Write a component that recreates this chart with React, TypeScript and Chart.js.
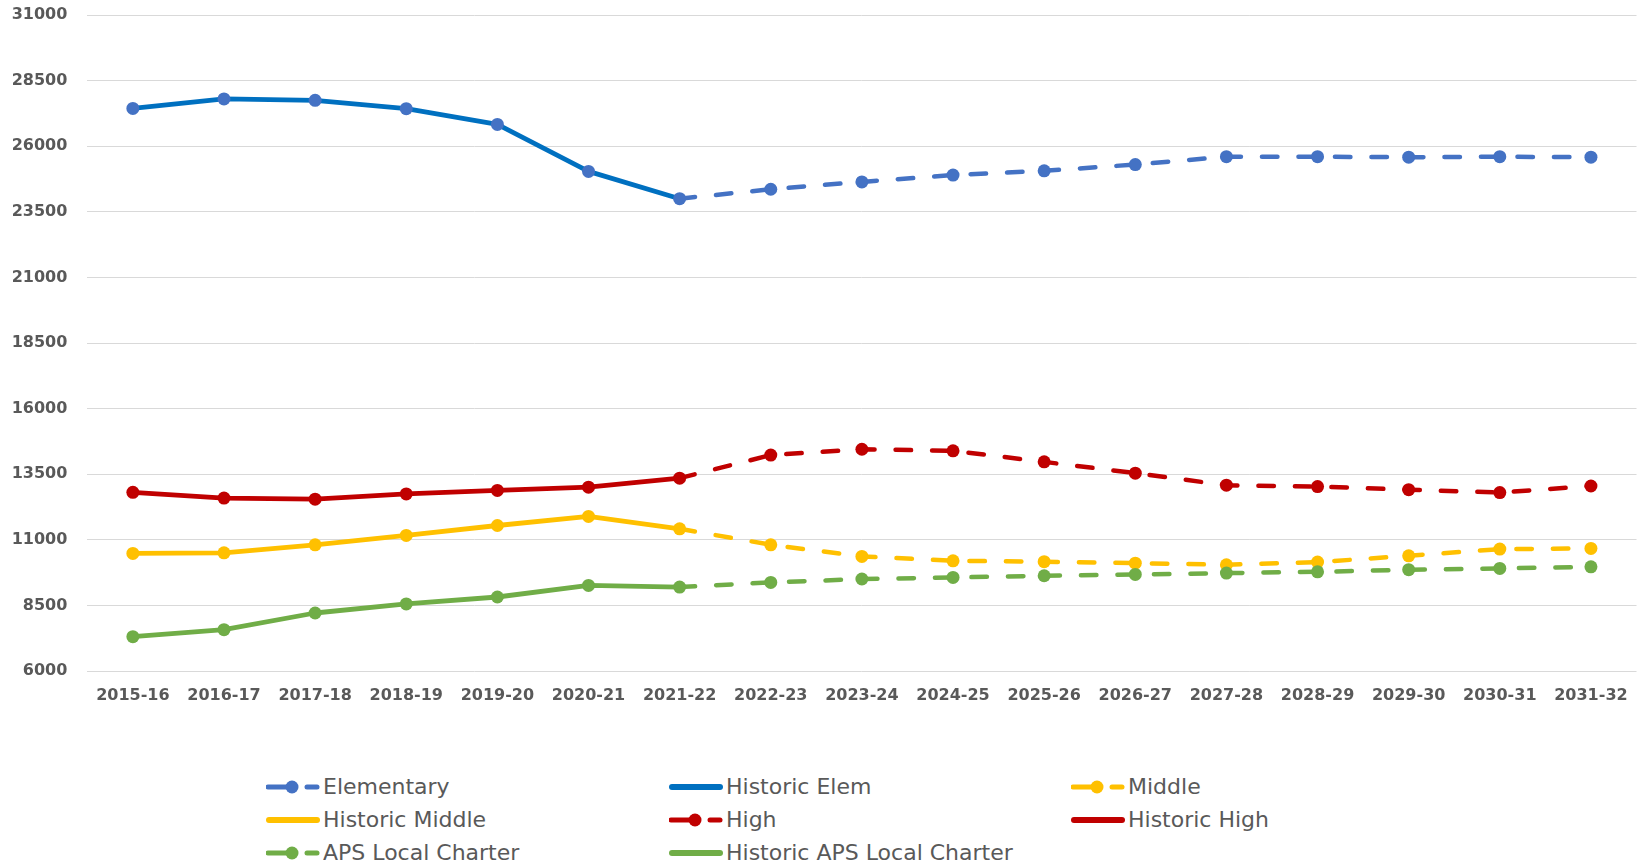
import React, { useEffect, useRef } from 'react';
import { Chart, registerables } from 'chart.js';

Chart.register(...registerables);

const categories = [
  '2015-16', '2016-17', '2017-18', '2018-19', '2019-20', '2020-21', '2021-22', '2022-23',
  '2023-24', '2024-25', '2025-26', '2026-27', '2027-28', '2028-29', '2029-30', '2030-31', '2031-32',
];

const elementary = [27440, 27800, 27750, 27430, 26830, 25040, 24000, 24360, 24640, 24900, 25060, 25300, 25600, 25600, 25580, 25600, 25580];
const middle = [10480, 10505, 10810, 11165, 11545, 11890, 11420, 10810, 10365, 10200, 10165, 10110, 10050, 10150, 10390, 10645, 10670];
const high = [12810, 12590, 12550, 12750, 12880, 13005, 13350, 14230, 14450, 14390, 13970, 13540, 13080, 13030, 12910, 12800, 13050];
const charter = [7310, 7575, 8210, 8555, 8820, 9260, 9200, 9375, 9505, 9565, 9630, 9680, 9730, 9780, 9860, 9910, 9970];

const historicCount = 7;
const yMin = 6000;
const yMax = 31000;
const yStep = 2500;

const legendItems = [
  { label: 'Elementary', color: '#4472C4', dashed: true },
  { label: 'Historic Elem', color: '#0070C0', dashed: false },
  { label: 'Middle', color: '#FFC000', dashed: true },
  { label: 'Historic Middle', color: '#FFC000', dashed: false },
  { label: 'High', color: '#C00000', dashed: true },
  { label: 'Historic High', color: '#C00000', dashed: false },
  { label: 'APS Local Charter', color: '#70AD47', dashed: true },
  { label: 'Historic APS Local Charter', color: '#70AD47', dashed: false },
];

const legendCols = [268, 671, 1073];
const legendRows = [786.5, 820, 853];

function projected(label: string, values: number[], color: string, order: number) {
  return {
    label,
    data: values,
    borderColor: color,
    backgroundColor: color,
    borderWidth: 4.5,
    borderDash: [15.5, 21],
    borderCapStyle: 'round' as const,
    pointRadius: 6.5,
    pointHoverRadius: 6.5,
    pointBorderWidth: 0,
    pointBackgroundColor: color,
    tension: 0,
    order,
    segment: {
      borderColor: (ctx: any) => (ctx.p0DataIndex < historicCount - 1 ? 'rgba(0,0,0,0)' : color),
    },
  };
}

function historic(label: string, values: number[], color: string, order: number) {
  return {
    label,
    data: values.map((v, i) => (i < historicCount ? v : null)),
    borderColor: color,
    backgroundColor: color,
    borderWidth: 4.8,
    borderCapStyle: 'round' as const,
    borderJoinStyle: 'round' as const,
    pointRadius: 0,
    pointHoverRadius: 0,
    tension: 0,
    order,
  };
}

function LegendIcon({ color, dashed }: { color: string; dashed: boolean }) {
  return (
    <svg width="54" height="16" style={{ display: 'block' }}>
      {dashed ? (
        <>
          <line x1="2" y1="8" x2="22" y2="8" stroke={color} strokeWidth="5" strokeLinecap="round" />
          <circle cx="26" cy="8" r="6.5" fill={color} />
          <line x1="41" y1="8" x2="51" y2="8" stroke={color} strokeWidth="5" strokeLinecap="round" />
        </>
      ) : (
        <line x1="3" y1="8" x2="51" y2="8" stroke={color} strokeWidth="6" strokeLinecap="round" />
      )}
    </svg>
  );
}

export default function App() {
  const ref = useRef<HTMLCanvasElement | null>(null);

  useEffect(() => {
    if (!ref.current) return;
    const chart = new Chart(ref.current, {
      type: 'line',
      data: {
        labels: categories,
        datasets: [
          projected('Elementary', elementary, '#4472C4', 3),
          historic('Historic Elem', elementary, '#0070C0', 7),
          projected('Middle', middle, '#FFC000', 2),
          historic('Historic Middle', middle, '#FFC000', 6),
          projected('High', high, '#C00000', 1),
          historic('Historic High', high, '#C00000', 5),
          projected('APS Local Charter', charter, '#70AD47', 0),
          historic('Historic APS Local Charter', charter, '#70AD47', 4),
        ] as any,
      },
      options: {
        responsive: false,
        animation: false,
        layout: { padding: { top: 15, left: 0, right: 0, bottom: 0 } },
        plugins: {
          legend: { display: false },
          tooltip: { enabled: false },
        },
        scales: {
          x: {
            offset: true,
            grid: { display: false, drawTicks: false },
            border: { display: false },
            ticks: {
              color: '#595959',
              font: { family: 'DejaVu Sans', size: 16, weight: 'bold' },
              padding: 15,
              maxRotation: 0,
              autoSkip: false,
            },
            afterFit: (scale: any) => {
              scale.height = 49;
            },
          },
          y: {
            min: yMin,
            max: yMax,
            grid: { color: '#D9D9D9', lineWidth: 1, drawTicks: false },
            border: { display: false },
            ticks: {
              stepSize: yStep,
              color: '#595959',
              font: { family: 'DejaVu Sans', size: 16, weight: 'bold' },
              padding: 20,
              callback: (v: any) => String(v),
            },
            afterFit: (scale: any) => {
              scale.width = 87.3;
              scale.paddingTop = 10;
              scale.paddingBottom = 10;
            },
          },
        },
      },
    });
    return () => chart.destroy();
  }, []);

  return (
    <div
      style={{
        position: 'fixed',
        left: 0,
        top: 0,
        width: 1639,
        height: 865,
        overflow: 'hidden',
        background: '#fff',
      }}
    >
      <canvas ref={ref} width={1643} height={720} style={{ position: 'absolute', left: 0, top: 0 }} />
      {legendItems.map((item, i) => {
        const col = i % 3;
        const row = Math.floor(i / 3);
        return (
          <div
            key={item.label}
            style={{
              position: 'absolute',
              left: legendCols[col] - 2,
              top: legendRows[row] - 15,
              height: 30,
              display: 'flex',
              alignItems: 'center',
              whiteSpace: 'nowrap',
            }}
          >
            <LegendIcon color={item.color} dashed={item.dashed} />
            <span
              style={{
                marginLeft: 3,
                fontFamily: 'DejaVu Sans',
                fontSize: 22,
                color: '#595959',
                lineHeight: '30px',
              }}
            >
              {item.label}
            </span>
          </div>
        );
      })}
    </div>
  );
}
